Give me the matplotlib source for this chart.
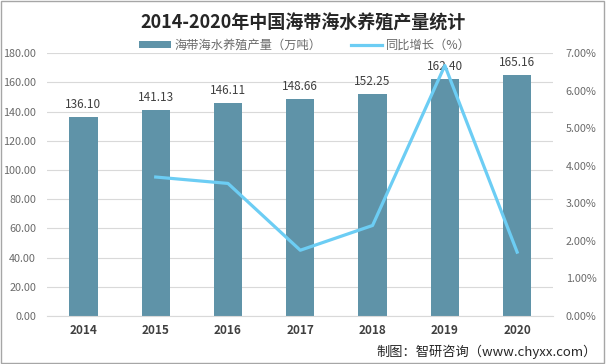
import matplotlib
matplotlib.use("Agg")
import matplotlib.pyplot as plt
from matplotlib.ticker import FuncFormatter, MultipleLocator

plt.rcParams["font.family"] = ["Noto Sans CJK SC", "DejaVu Sans"]

years = ["2014", "2015", "2016", "2017", "2018", "2019", "2020"]
output = [136.10, 141.13, 146.11, 148.66, 152.25, 162.40, 165.16]
growth_years = ["2015", "2016", "2017", "2018", "2019", "2020"]
growth = [3.70, 3.53, 1.75, 2.41, 6.67, 1.70]

BAR_COLOR = "#5f93a8"
LINE_COLOR = "#6ccdf4"
TICK_COLOR = "#6b6b6b"

fig = plt.figure(figsize=(6.06, 3.64), dpi=100)
fig.patches.append(plt.Rectangle((0.002, 0.003), 0.995, 0.994, transform=fig.transFigure,
                                 fill=False, edgecolor="#a6a6a6", linewidth=1))
ax = fig.add_axes([0.078, 0.132, 0.835, 0.722])

x = list(range(len(years)))
bars = ax.bar(x, output, width=0.39, color=BAR_COLOR, zorder=2, label="海带海水养殖产量（万吨）")
for xi, v in zip(x, output):
    ax.text(xi, v + 4, f"{v:.2f}", ha="center", va="bottom", fontsize=8.5, color="#404040")

ax.set_ylim(0, 180)
ax.yaxis.set_major_locator(MultipleLocator(20))
ax.yaxis.set_major_formatter(FuncFormatter(lambda v, _: f"{v:.2f}"))
ax.set_xlim(-0.5, len(years) - 0.5)
ax.set_xticks(x)
ax.set_xticklabels(years, fontweight="bold", fontsize=8.5, color="#404040")
ax.grid(axis="y", color="#d9d9d9", linewidth=0.8, zorder=0)
for s in ["top", "right", "left"]:
    ax.spines[s].set_visible(False)
ax.spines["bottom"].set_color("#d9d9d9")
ax.tick_params(axis="both", length=0)
ax.tick_params(axis="y", labelsize=7.8, labelcolor=TICK_COLOR, pad=8)
ax.tick_params(axis="x", pad=6)

ax2 = ax.twinx()
gx = [years.index(y) for y in growth_years]
line, = ax2.plot(gx, growth, color=LINE_COLOR, linewidth=2.3, zorder=3, label="同比增长（%）")
ax2.set_ylim(0, 7)
ax2.yaxis.set_major_locator(MultipleLocator(1))
ax2.yaxis.set_major_formatter(FuncFormatter(lambda v, _: f"{v:.2f}%"))
for s in ax2.spines.values():
    s.set_visible(False)
ax2.tick_params(axis="y", length=0, labelsize=7.8, labelcolor=TICK_COLOR, pad=9)

fig.text(0.5, 0.937, "2014-2020年中国海带海水养殖产量统计", ha="center", va="center",
         fontsize=13, fontweight="bold", color="#262626")
fig.legend(handles=[bars, line], loc="center", bbox_to_anchor=(0.503, 0.876), ncol=2,
           frameon=False, fontsize=8.8, labelcolor=TICK_COLOR, handlelength=2.6,
           handleheight=0.5, handletextpad=0.3, columnspacing=2.4)
fig.text(0.985, 0.033, "制图：智研咨询（www.chyxx.com）", ha="right", va="center",
         fontsize=9.5, color="#262626")

fig.savefig("out.png", dpi=100)
